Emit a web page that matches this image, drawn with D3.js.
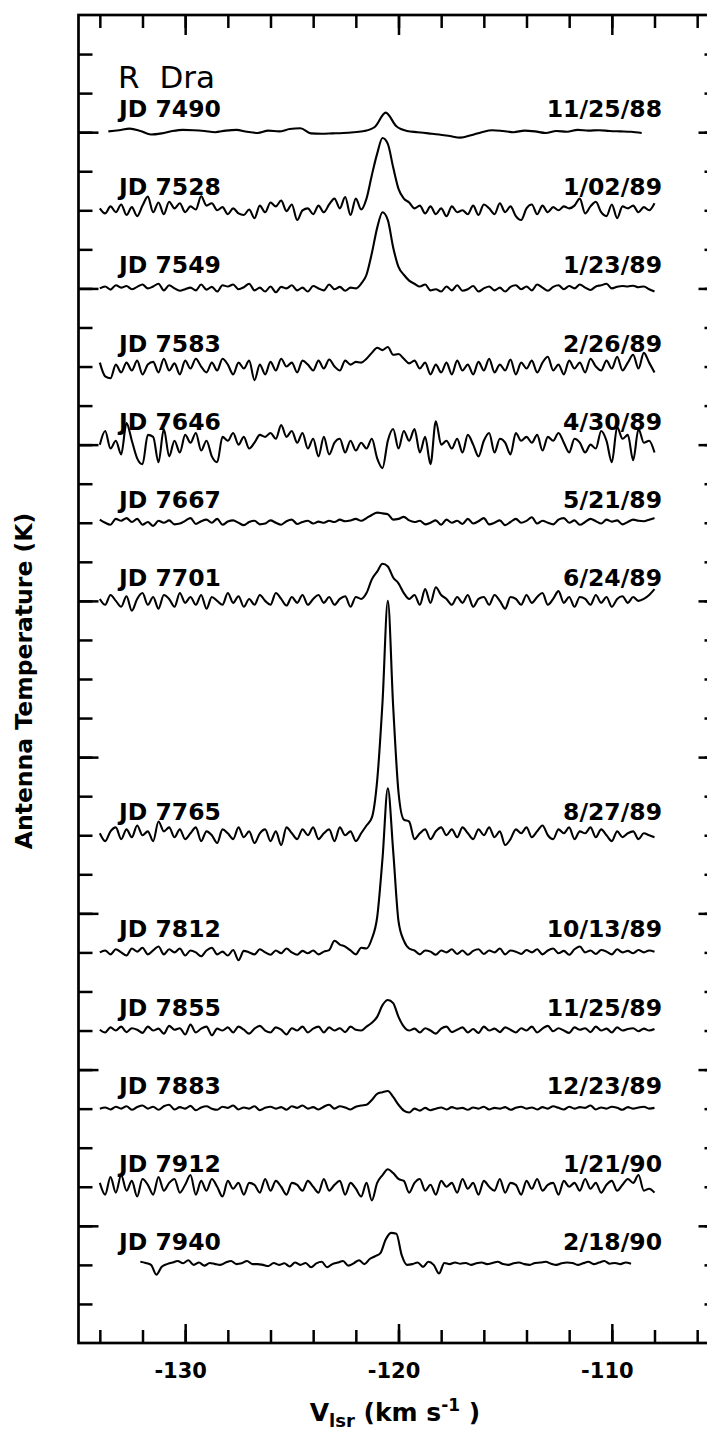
<!DOCTYPE html>
<html><head><meta charset="utf-8">
<script src="https://cdn.jsdelivr.net/npm/d3@7"></script>
<style>html,body{margin:0;padding:0;background:#fff;}svg{display:block;}</style>
</head><body>
<svg id="c" width="707" height="1435"></svg>
<script>
// ---- data ----
const jdLabels = ["JD 7490","JD 7528","JD 7549","JD 7583","JD 7646","JD 7667","JD 7701","JD 7765","JD 7812","JD 7855","JD 7883","JD 7912","JD 7940"];
const dates = ["11/25/88","1/02/89","1/23/89","2/26/89","4/30/89","5/21/89","6/24/89","8/27/89","10/13/89","11/25/89","12/23/89","1/21/90","2/18/90"];
const offsets = [31,29,27,25,23,21,19,13,10,8,6,4,2];
const vStart = [-133.6,-134,-134,-134,-134,-134,-134,-134,-134,-134,-134,-134,-132.1];
const vStep = [0.5,0.25,0.25,0.25,0.25,0.25,0.25,0.25,0.25,0.25,0.25,0.25,0.25];
const xMinorTicks = [-134,-132,-130,-128,-126,-124,-122,-120,-118,-116,-114,-112,-110,-108,-106];
const xMajorTicks = [-130,-120,-110];
const yMinorTicks = [1,2,3,4,5,6,7,8,9,10,11,12,13,14,15,16,17,18,19,20,21,22,23,24,25,26,27,28,29,30,31,32,33];
const yMajorTicks = [3,7,11,15,19,23,27,31];

const t7490 = [0.02,0.05,0.09,0.03,-0.06,-0.03,0.03,0.06,0.05,0.03,
0,0.04,0.06,0.01,-0.02,0.04,0.02,0.08,0.1,-0.03,
-0.04,-0.03,-0.02,0,0.03,0.14,0.5,0.15,0.03,0,
-0.03,-0.06,-0.1,-0.14,-0.08,0,0.05,0.03,0,0.04,
0.02,-0.02,0.03,0.01,0.06,0.04,0.05,0.03,0.02,0.01,-0.02];
const t7528 = [0.05,-0.08,0.1,-0.05,0.15,-0.12,0.08,-0.15,0.12,0.35,
-0.05,0.2,-0.1,0.22,0.05,0.18,-0.05,0.1,0.02,0.36,
0.12,0.18,0,0.08,-0.1,0.05,-0.08,-0.12,0.02,-0.2,
0.12,-0.05,0.2,0.1,0.25,-0.02,0.15,-0.25,0,0.05,
-0.1,0.12,-0.05,0.15,0.3,0.05,0.34,-0.12,0.3,0.02,
0.3,0.9,1.45,1.85,1.7,1.1,0.55,0.3,0.2,0.05,
0.12,-0.08,0.1,-0.1,0.05,-0.15,0.1,-0.05,0,-0.1,
0.12,-0.12,0.15,0.05,-0.1,0.18,-0.05,0.1,-0.15,-0.25,
0.05,0.15,-0.1,0.12,-0.05,0.08,0,0.1,0.05,0.12,
0.3,-0.08,0.1,0.22,-0.05,-0.15,0.15,-0.2,0.1,0.05,
0.12,-0.05,0.08,0,0.18];
const t7549 = [0,0.05,-0.03,0.08,0.02,0.06,-0.02,0.04,0.1,0,
0.05,0.12,-0.05,0.08,0,-0.06,-0.02,0.02,-0.05,0.1,
-0.03,0.04,-0.08,0.08,0.05,0.1,-0.02,0.03,0.12,-0.05,
0.02,-0.08,0.05,-0.1,0.04,0,0.08,-0.05,0.02,-0.08,
0.06,0,-0.05,0.1,-0.02,0.04,-0.06,0.02,0,0.12,
0.35,0.9,1.55,1.95,1.75,1.05,0.55,0.35,0.2,0.12,
0.05,0.1,-0.05,-0.02,-0.08,0.05,-0.05,0.08,-0.06,-0.02,
0.06,-0.08,0,0.05,-0.05,0.02,-0.08,0.04,0.08,-0.02,
0.05,-0.05,0.1,0.02,-0.06,0.04,0.08,-0.02,0.06,0,
0.1,0.02,-0.04,0.05,0.08,0.12,0,0.04,0.06,0.05,
0.07,0.03,0.05,-0.02,-0.08];
const t7583 = [0.1,-0.25,-0.3,0.05,-0.15,0.1,-0.1,0.15,-0.2,0.05,
0.12,-0.15,0.2,-0.1,0.08,-0.2,0.15,-0.05,0.2,0,
-0.15,0.1,-0.1,0.2,0.05,-0.2,0.1,-0.05,0.15,-0.35,
0.05,-0.2,0.12,-0.1,0.2,0,0.1,-0.15,0.15,0.05,
-0.1,0.15,-0.05,0.18,0,-0.1,0.15,0.05,0.12,0.1,
0.2,0.35,0.48,0.42,0.5,0.3,0.32,0.2,0.08,0.15,
-0.05,0.1,-0.2,0.05,-0.15,0.1,-0.2,0.15,-0.1,0.05,
-0.2,0.12,-0.1,0.2,-0.15,0.05,-0.1,0.18,-0.2,0.1,
-0.05,0.15,-0.15,0.1,0.25,-0.1,0.05,-0.2,0.15,-0.05,
0.1,-0.15,0.2,0,-0.1,0.15,-0.05,0.25,-0.1,0.1,
0.3,-0.05,0.35,0.1,-0.15];
const t7646 = [0,0.35,-0.1,0.1,-0.25,0.55,0.1,-0.35,-0.5,0.25,
0.2,-0.45,0.4,-0.3,0.1,-0.2,0.25,0.05,0.3,-0.15,
0.1,-0.3,-0.45,0.2,0.1,0.3,0,0.2,-0.1,0.05,
0.25,0.2,0.3,0.15,0.5,0.2,0.35,0.05,0.3,-0.1,
0.15,-0.3,0.2,-0.25,0.05,0.15,-0.2,0.1,-0.15,0.05,
-0.1,0.15,-0.35,-0.6,0.1,0.4,-0.1,0.35,0.1,0.4,
-0.2,0.2,-0.5,0.6,0,0.1,-0.1,0.15,-0.2,0.25,
0,-0.3,0.1,0.3,-0.2,0.15,0.05,-0.25,0.3,0.1,
0.2,0.05,0.25,-0.15,0.2,0.1,0.3,0.05,-0.2,0.15,
0.05,-0.2,0,-0.1,0.35,0.1,-0.45,0.45,0.15,0.25,
-0.4,0.4,0.05,0.1,-0.2];
const t7667 = [0.08,0,-0.05,0.1,0.05,0.12,0.02,0.1,-0.05,0.02,
-0.08,0.05,0,0.06,-0.04,-0.02,0.05,0.12,-0.03,0.04,
0.08,0,0.1,-0.05,0.03,0.06,0,-0.06,0.02,0.05,
-0.04,-0.02,0.06,0,-0.05,0.04,0.08,-0.03,0.02,0.05,
-0.02,0.03,0,0.05,0.02,0.08,0.04,0.06,0.1,0.05,
0.12,0.2,0.26,0.24,0.22,0.08,0.1,0.15,0.06,0.02,
0.05,-0.04,0,0.06,-0.05,0.08,0,0.05,-0.03,0.1,
-0.02,0.04,0.12,-0.04,0,0.06,-0.06,0.02,0.1,0,
0.05,0.14,-0.02,0.05,0,-0.04,0.08,0.12,0,0.06,
-0.05,0.02,0.1,0.04,-0.02,0.08,0.03,0.06,-0.04,0.02,
0.08,0.05,0.04,0.08,0.12];
const t7701 = [0.05,-0.1,0.15,0,-0.15,0.12,-0.25,0.05,0.2,-0.1,
0.1,-0.2,0.15,0.05,-0.15,0.2,-0.05,0.1,-0.1,0.15,
-0.2,0.1,0,-0.1,0.2,-0.05,0.12,-0.15,0.05,-0.1,
0.15,0,-0.1,0.2,0.05,-0.12,0.1,-0.05,0.15,-0.1,
0.05,0.15,-0.05,0.1,-0.1,0.05,0.12,-0.15,0.1,0.05,
0.2,0.55,0.75,0.95,0.88,0.6,0.45,0.2,0.05,0.15,
-0.1,0.3,-0.05,0.35,0.15,0.05,-0.1,0.1,-0.05,0.15,
-0.15,0.05,0.1,-0.1,0.15,0,-0.2,0.1,0.05,-0.1,
0.15,-0.05,0.1,0.2,-0.1,0.05,0.25,-0.05,0.1,-0.15,
0.1,0.05,-0.1,0.15,-0.05,0.1,-0.15,0.05,0.12,-0.05,
0.1,0,0.05,0.15,0.3];
const t7765 = [0.05,-0.15,0.1,0.2,-0.1,0.15,-0.05,0.25,0,0.1,
-0.15,0.35,0.1,0.2,-0.05,0.15,-0.1,0.05,0.2,-0.15,
0.1,0,-0.2,0.15,0.05,-0.1,0.2,-0.05,0.1,-0.2,
0.05,0.15,-0.15,0.1,-0.25,0.2,0.05,-0.1,0.15,0,
0.2,-0.1,0.05,0.15,-0.15,0.2,0,0.1,-0.15,0.05,
0.25,0.45,1.4,3.4,6.0,3.3,1.1,0.4,0.35,-0.1,
0.05,0.15,-0.1,0.1,0.2,0,0.15,-0.05,0.2,0.05,
-0.1,0.15,0,0.2,-0.05,0.1,-0.25,-0.1,0.15,0.05,
0.2,-0.05,0.1,0.25,0,-0.1,0.15,0.05,0.2,-0.1,
0.1,0.05,0.2,-0.05,0.15,0,-0.15,0.1,-0.05,0.05,
0.1,-0.1,0.05,0,-0.05];
const t7812 = [0,0.05,-0.05,0.08,0,-0.08,0.1,0.02,0.12,-0.05,
0.05,0.15,-0.05,0.08,0,0.1,-0.08,0.05,0,-0.1,
0.05,0.12,-0.05,0.02,-0.08,0.06,-0.2,0.04,0,-0.05,
0.08,0,-0.06,0.05,-0.02,0.1,0,-0.06,0.04,-0.02,
0.05,-0.05,0.02,0.06,0.3,0.2,0.15,0.05,-0.05,0.12,
0.1,0.35,0.9,2.4,4.2,2.6,0.8,0.3,0.1,0.05,
-0.05,0.05,0.02,-0.06,0.05,0,0.08,-0.04,0.05,-0.06,
0.04,0.08,-0.04,0.05,0,0.1,-0.05,0.05,0.02,-0.04,
0.06,0,0.08,-0.05,0.05,0.1,-0.02,0.04,-0.06,0.08,
0.15,0,0.05,-0.04,0.06,0.02,-0.05,0.08,0,0.04,
-0.02,0.06,0,0.05,0.02];
const t7855 = [0.02,-0.05,0.08,0,0.1,-0.04,0.06,0.02,-0.06,0.1,
0,0.05,-0.08,0.12,0.02,0.06,-0.1,0.15,-0.05,0.05,
0.1,-0.12,0.05,0,0.08,-0.05,0.1,0.02,-0.08,0.05,
0.12,0,-0.05,0.08,0.02,-0.1,0.06,0,0.1,-0.05,
0.05,0.1,-0.05,0.08,0,0.06,-0.04,0.1,0.02,0,
0.1,0.2,0.35,0.65,0.78,0.7,0.35,0.1,0,0.05,
-0.05,0.06,0,-0.08,0.05,0.1,-0.04,0.02,0.08,-0.05,
0.04,-0.06,0.1,0,0.05,-0.04,0.08,0.02,-0.05,0.06,
0,0.1,-0.05,0.05,0.12,-0.02,0.06,0,-0.06,0.08,
0.02,0.06,-0.04,0.1,0,0.05,-0.05,0.08,0,0.04,
0.06,-0.02,0.05,0,0.04];
const t7883 = [0,0.03,-0.02,0.05,0,0.06,-0.03,0.04,0.08,0,
0.05,-0.03,0.06,0.1,-0.02,0.04,0,0.07,-0.04,0.03,
0.06,0,-0.03,0.05,0.02,0.08,-0.02,0.03,0,0.06,
-0.04,0.02,0.05,0,0.04,-0.03,0.06,0.02,0.08,0,
0.04,-0.02,0.05,0.1,0,0.06,0.03,-0.02,0.05,0.08,
0.1,0.22,0.38,0.42,0.45,0.3,0.1,-0.05,-0.1,0,
-0.05,0.02,-0.04,0,0.03,-0.02,0.04,0,0.02,-0.03,
0.03,0,0.05,-0.02,0.02,0,0.04,-0.03,0.02,0.05,
0,0.03,-0.02,0.04,0,0.06,0.02,-0.02,0.05,0,
0.04,0.02,0.08,-0.02,0.03,0,0.05,0.02,-0.03,0.04,
0,0.03,0.05,0,0.02];
const t7912 = [0.1,-0.2,0.25,-0.15,0.3,-0.1,0.15,-0.25,0.2,0.05,
-0.2,0.25,-0.1,0.1,0.2,-0.15,0.05,0.3,-0.2,0.15,
-0.1,0.2,0,-0.25,0.15,-0.05,0.1,-0.2,0.1,0.05,
-0.15,0.2,-0.1,0.15,0,-0.2,0.1,0.05,-0.1,0.15,
0,-0.15,0.2,-0.1,0.05,0.15,-0.2,0.1,-0.05,-0.25,
0.1,-0.35,0.1,0.3,0.45,0.35,0.2,0.15,-0.15,0.1,
0.2,-0.1,0.05,-0.2,0.15,0,0.1,-0.15,0.2,-0.05,
0.1,-0.2,0.15,0,-0.1,0.2,-0.15,0.1,0.05,-0.2,
0.15,-0.05,0.2,-0.1,0.05,0.1,-0.2,0.15,0,0.1,
-0.1,0.2,-0.05,0.1,-0.15,0.05,0.15,-0.1,0.05,0.2,
0.1,0.3,-0.1,-0.05,-0.15];
const t7940 = [0.08,0.05,0,-0.25,-0.05,0.02,0.06,0.1,0.04,0.12,
0,0.06,-0.02,0.05,0.02,0,0.06,0.1,0.02,0.04,
0.1,0.02,0.02,0,-0.03,0.05,0,0.04,-0.04,0.06,
0,0.05,-0.06,0.04,0.08,-0.06,0.02,0.06,0.1,-0.02,
0.04,0.12,0.02,0.15,0.22,0.3,0.65,0.82,0.8,0.25,
0,0.02,0.06,-0.05,0.08,0,-0.22,0.05,0.02,0.06,
0.03,0.05,0,0.04,0.06,0.02,0.05,0.08,0.02,0,
0.04,0.06,0.02,0,0.05,0.06,0.08,0.03,0,0.04,
0.06,0.05,0,0.04,0.08,0.02,0.06,0.1,0.03,0.05,
0.02,0.06,0.03];
const spectra = [t7490,t7528,t7549,t7583,t7646,t7667,t7701,t7765,t7812,t7855,t7883,t7912,t7940];

// ---- layout ----
const L = 78.5, R = 718.5, T = 15, B = 1343;
const x = d3.scaleLinear().domain([-135, -105]).range([L, R]);
const y = d3.scaleLinear().domain([0, 34]).range([B, T]);
const svg = d3.select("#c");
const FONT = "'DejaVu Sans', sans-serif";

function styleAxis(g){
  g.select(".domain").remove();
  g.selectAll(".tick line").attr("stroke","#000").attr("stroke-width",2.5);
}
// x axes
svg.append("g").attr("transform",`translate(0,${B})`).call(d3.axisBottom(x).tickValues(xMinorTicks).tickSize(-13).tickFormat("")).call(styleAxis);
svg.append("g").attr("transform",`translate(0,${B})`).call(d3.axisBottom(x).tickValues(xMajorTicks).tickSize(-19).tickPadding(20).tickFormat(d=>String(d))).call(styleAxis)
  .selectAll("text").attr("font-family",FONT).attr("font-weight","bold").attr("font-size",21).attr("fill","#000").attr("dx",-5);
svg.append("g").attr("transform",`translate(0,${T})`).call(d3.axisTop(x).tickValues(xMinorTicks).tickSize(-13).tickFormat("")).call(styleAxis);
svg.append("g").attr("transform",`translate(0,${T})`).call(d3.axisTop(x).tickValues(xMajorTicks).tickSize(-20).tickFormat("")).call(styleAxis);
// y axes
svg.append("g").attr("transform",`translate(${L},0)`).call(d3.axisLeft(y).tickValues(yMinorTicks).tickSize(-14).tickFormat("")).call(styleAxis);
svg.append("g").attr("transform",`translate(${L},0)`).call(d3.axisLeft(y).tickValues(yMajorTicks).tickSize(-20).tickFormat("")).call(styleAxis);
svg.append("g").attr("transform",`translate(${R},0)`).call(d3.axisRight(y).tickValues(yMinorTicks).tickSize(-14).tickFormat("")).call(styleAxis);
svg.append("g").attr("transform",`translate(${R},0)`).call(d3.axisRight(y).tickValues(yMajorTicks).tickSize(-20).tickFormat("")).call(styleAxis);

// frame
svg.append("rect").attr("x",L).attr("y",T).attr("width",R-L).attr("height",B-T)
  .attr("fill","none").attr("stroke","#000").attr("stroke-width",2.7);

// spectra
spectra.forEach((s,k)=>{
  const line = d3.line().curve(d3.curveMonotoneX)
    .x((d,i)=>x(vStart[k]+i*vStep[k])).y(d=>y(offsets[k]+d));
  svg.append("path").attr("d",line(s)).attr("fill","none").attr("stroke","#000")
    .attr("stroke-width",2.1).attr("stroke-linejoin","round");
  svg.append("text").attr("x",119).attr("y",y(offsets[k])-15).text(jdLabels[k])
    .attr("font-family",FONT).attr("font-weight","bold").attr("font-size",23.5);
  svg.append("text").attr("x",662).attr("y",y(offsets[k])-15).attr("text-anchor","end").text(dates[k])
    .attr("font-family",FONT).attr("font-weight","bold").attr("font-size",23.5);
});

// title
svg.append("text").attr("x",118).attr("y",88).text("R Dra")
  .attr("font-family",FONT).attr("font-size",31).attr("word-spacing",10);

// y label
svg.append("text").attr("transform","translate(32,681) rotate(-90)").attr("text-anchor","middle")
  .attr("font-family",FONT).attr("font-weight","bold").attr("font-size",23.5).text("Antenna Temperature (K)");

// x label
const xl = svg.append("text").attr("x",395).attr("y",1421).attr("text-anchor","middle")
  .attr("font-family",FONT).attr("font-weight","bold").attr("font-size",25);
xl.append("tspan").text("V");
xl.append("tspan").attr("dy",6).attr("font-size",18).text("lsr");
xl.append("tspan").attr("dy",-6).text(" (km s");
xl.append("tspan").attr("dy",-10).attr("font-size",17).text("-1");
xl.append("tspan").attr("dy",10).text(" )");
</script>
</body></html>
